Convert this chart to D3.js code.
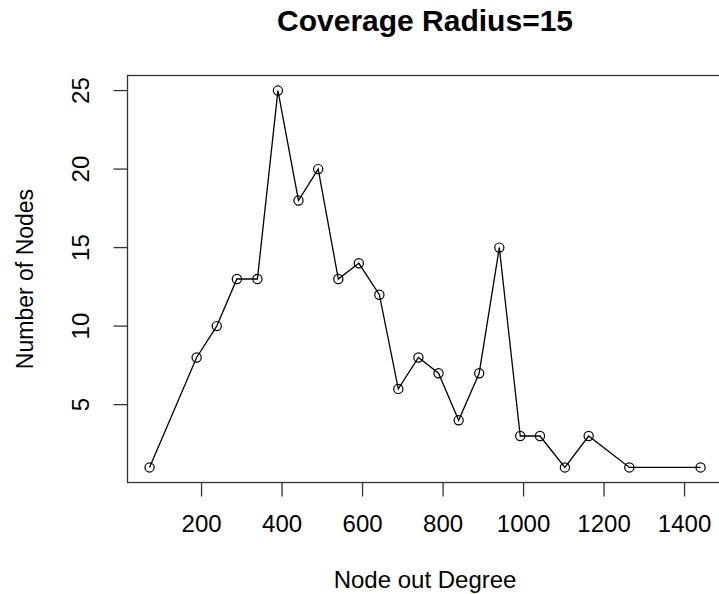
<!DOCTYPE html>
<html>
<head>
<meta charset="utf-8">
<script src="https://cdn.jsdelivr.net/npm/d3@7"></script>
<style>
  body { margin: 0; background: #fff; }
  svg { display: block; font-family: "Liberation Sans", Arial, sans-serif; }
</style>
</head>
<body>
<svg id="chart" width="719" height="594"></svg>
<script>
// node out degree vs number of nodes (coverage radius 15)
const degree = [72, 189, 239, 289, 340, 391, 442, 491, 541, 592, 643, 690,
	740, 790, 840, 891, 941, 993, 1042, 1104, 1163, 1264, 1441];
const nodes = [1, 8, 10, 13, 13, 25, 18, 20, 13, 14, 12, 6,
	8, 7, 4, 7, 15, 3, 3, 1, 3, 1, 1];
const xTicks = [200, 400, 600, 800, 1000, 1200, 1400];
const yTicks = [5, 10, 15, 20, 25];

const title = "Coverage Radius=15";
const xLabel = "Node out Degree";
const yLabel = "Number of Nodes";

const WIDTH = 719;
const HEIGHT = 594;

// plot box (right edge falls just outside the picture, like the original)
const box = { left: 127.5, right: 722.6, top: 75.5, bottom: 482.5 };

const data = degree.map((d, i) => ({ x: d, y: nodes[i] }));

// R style 4% padding around the data range
const pad = ([lo, hi]) => [lo - (hi - lo) * 0.04, hi + (hi - lo) * 0.04];

const xScale = d3.scaleLinear()
	.domain(pad(d3.extent(degree)))
	.range([box.left, box.right]);

const yScale = d3.scaleLinear()
	.domain(pad(d3.extent(nodes)))
	.range([box.bottom, box.top]);

const svg = d3.select("#chart");

svg.append("rect")
	.attr("width", WIDTH)
	.attr("height", HEIGHT)
	.attr("fill", "#fff");

// axes
const xAxis = d3.axisBottom(xScale)
	.tickValues(xTicks)
	.tickFormat(d3.format("d"))
	.tickSize(14)
	.tickPadding(18)
	.tickSizeOuter(0);

const yAxis = d3.axisLeft(yScale)
	.tickValues(yTicks)
	.tickFormat(d3.format("d"))
	.tickSize(14)
	.tickSizeOuter(0);

const gx = svg.append("g")
	.attr("transform", `translate(0,${box.bottom})`)
	.call(xAxis);

gx.select(".domain").remove();
gx.selectAll("line").attr("stroke", "#333").attr("stroke-width", 1.3);
gx.selectAll("text")
	.attr("fill", "#000")
	.style("font-size", "24px");

const gy = svg.append("g")
	.attr("transform", `translate(${box.left},0)`)
	.call(yAxis);

gy.select(".domain").remove();
gy.selectAll("line").attr("stroke", "#333").attr("stroke-width", 1.3);
gy.selectAll(".tick").attr("transform", null);
gy.selectAll(".tick line")
	.attr("y1", d => yScale(d))
	.attr("y2", d => yScale(d));
gy.selectAll("text")
	.attr("fill", "#000")
	.attr("x", null)
	.attr("y", null)
	.attr("dy", null)
	.attr("text-anchor", "middle")
	.attr("transform", d => `translate(${89 - box.left},${yScale(d)}) rotate(-90)`)
	.style("font-size", "24px");

// box
svg.append("rect")
	.attr("x", box.left)
	.attr("y", box.top)
	.attr("width", box.right - box.left)
	.attr("height", box.bottom - box.top)
	.attr("fill", "none")
	.attr("stroke", "#333")
	.attr("stroke-width", 1.3);

// line + open circles (type = "o")
const line = d3.line()
	.x(d => xScale(d.x))
	.y(d => yScale(d.y));

svg.append("path")
	.datum(data)
	.attr("d", line)
	.attr("fill", "none")
	.attr("stroke", "#000")
	.attr("stroke-width", 1.3);

svg.append("g")
	.selectAll("circle")
	.data(data)
	.join("circle")
	.attr("cx", d => xScale(d.x))
	.attr("cy", d => yScale(d.y))
	.attr("r", 4.6)
	.attr("fill", "none")
	.attr("stroke", "#000")
	.attr("stroke-width", 1.2);

// titles
svg.append("text")
	.attr("x", (box.left + box.right) / 2)
	.attr("y", 31)
	.attr("text-anchor", "middle")
	.style("font-size", "30px")
	.style("font-weight", "bold")
	.text(title);

svg.append("text")
	.attr("x", (box.left + box.right) / 2)
	.attr("y", 588)
	.attr("text-anchor", "middle")
	.style("font-size", "24px")
	.text(xLabel);

svg.append("text")
	.attr("transform", `translate(33,${(box.top + box.bottom) / 2}) rotate(-90)`)
	.attr("text-anchor", "middle")
	.style("font-size", "23px")
	.text(yLabel);
</script>
</body>
</html>
